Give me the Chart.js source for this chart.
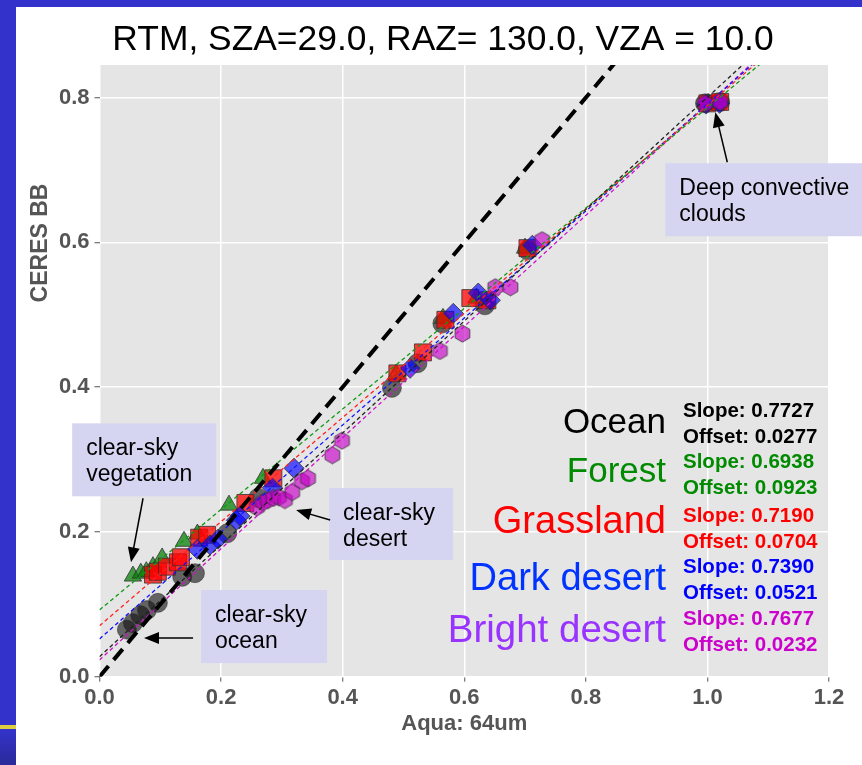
<!DOCTYPE html>
<html>
<head>
<meta charset="utf-8">
<script src="https://cdn.jsdelivr.net/npm/chart.js@4.4.1/dist/chart.umd.min.js"></script>
<style>
  body { margin: 0; background: #fff; }
  canvas { display: block; }
</style>
</head>
<body>
<canvas id="myChart" width="862" height="765"></canvas>
<script>
// data
var oceanX = [0.045, 0.055, 0.067, 0.078, 0.096, 0.136, 0.157, 0.210, 0.261, 0.481, 0.523, 0.564, 0.634, 0.704, 0.996, 1.021];
var oceanY = [0.065, 0.074, 0.085, 0.092, 0.102, 0.138, 0.143, 0.198, 0.247, 0.399, 0.433, 0.488, 0.513, 0.589, 0.792, 0.794];

var forestX = [0.055, 0.068, 0.077, 0.088, 0.103, 0.139, 0.161, 0.213, 0.269, 0.488, 0.565, 0.620, 0.700, 1.001];
var forestY = [0.139, 0.143, 0.145, 0.152, 0.164, 0.187, 0.197, 0.237, 0.274, 0.418, 0.495, 0.523, 0.592, 0.792];

var grassX = [0.088, 0.096, 0.111, 0.129, 0.134, 0.164, 0.177, 0.240, 0.286, 0.490, 0.532, 0.569, 0.610, 0.638, 0.704, 1.000, 1.021];
var grassY = [0.141, 0.145, 0.152, 0.158, 0.165, 0.192, 0.196, 0.240, 0.274, 0.419, 0.448, 0.493, 0.523, 0.520, 0.592, 0.792, 0.794];

var darkX = [0.161, 0.182, 0.195, 0.225, 0.231, 0.284, 0.320, 0.511, 0.582, 0.623, 0.643, 0.712, 0.998, 1.020];
var darkY = [0.176, 0.182, 0.190, 0.216, 0.222, 0.261, 0.288, 0.426, 0.502, 0.530, 0.520, 0.596, 0.791, 0.792];

var brightX = [0.259, 0.269, 0.277, 0.286, 0.295, 0.305, 0.317, 0.333, 0.343, 0.383, 0.399, 0.560, 0.597, 0.651, 0.676, 0.728, 0.996, 1.021];
var brightY = [0.234, 0.241, 0.244, 0.247, 0.248, 0.244, 0.255, 0.270, 0.274, 0.306, 0.326, 0.450, 0.474, 0.538, 0.538, 0.603, 0.792, 0.794];

// fit results printed on the chart
var names = ['Ocean', 'Forest', 'Grassland', 'Dark desert', 'Bright desert'];
var slopes = [0.7727, 0.6938, 0.7190, 0.7390, 0.7677];
var offsets = [0.0277, 0.0923, 0.0704, 0.0521, 0.0232];

var xTicks = [0.0, 0.2, 0.4, 0.6, 0.8, 1.0, 1.2];
var yTicks = [0.0, 0.2, 0.4, 0.6, 0.8];

var TITLE = 'RTM, SZA=29.0, RAZ= 130.0, VZA = 10.0';
var FONT = "'Liberation Sans', Arial, sans-serif";
var nameColors = ['#000000', '#008a00', '#ff0000', '#0033ff', '#9933ff'];
var fitColors = ['#000000', '#008a00', '#ff0000', '#0000ff', '#cc00cc'];
var lineColors = ['#222222', '#119911', '#ff2222', '#1111ff', '#cc11cc'];

function pts(xs, ys) {
    return xs.map(function (x, i) { return { x: x, y: ys[i] }; });
}

// hexagon marker, chart.js has none
function hexagon(r, fill, stroke) {
    var c = document.createElement('canvas');
    var s = Math.ceil(r * 2 + 2);
    c.width = s; c.height = s;
    var g = c.getContext('2d');
    g.beginPath();
    for (var i = 0; i < 6; i++) {
        var a = -Math.PI / 2 + i * Math.PI / 3;
        var px = s / 2 + r * Math.cos(a), py = s / 2 + r * Math.sin(a);
        if (i === 0) g.moveTo(px, py); else g.lineTo(px, py);
    }
    g.closePath();
    g.fillStyle = fill; g.fill();
    g.strokeStyle = stroke; g.lineWidth = 1; g.stroke();
    return c;
}

var edge = 'rgba(50,50,50,0.8)';

var datasets = [
    { label: 'Ocean', data: pts(oceanX, oceanY), pointStyle: 'circle', pointRadius: 9.5,
      backgroundColor: 'rgba(20,20,20,0.62)', borderColor: 'rgba(40,40,40,0.5)', borderWidth: 1, order: 6 },
    { label: 'Forest', data: pts(forestX, forestY), pointStyle: 'triangle', pointRadius: 10,
      backgroundColor: 'rgba(0,125,0,0.72)', borderColor: edge, borderWidth: 1, order: 5 },
    { label: 'Grassland', data: pts(grassX, grassY), pointStyle: 'rect', pointRadius: 12,
      backgroundColor: 'rgba(255,0,0,0.75)', borderColor: edge, borderWidth: 1, order: 4 },
    { label: 'Dark desert', data: pts(darkX, darkY), pointStyle: 'rectRot', pointRadius: 10,
      backgroundColor: 'rgba(0,0,255,0.65)', borderColor: edge, borderWidth: 1, order: 3 },
    { label: 'Bright desert', data: pts(brightX, brightY), pointStyle: hexagon(8.5, 'rgba(200,0,200,0.65)', edge),
      pointRadius: 8.5, order: 2 }
];

// fitted lines from the printed slope / offset
names.forEach(function (n, i) {
    datasets.push({
        type: 'line', label: n + ' fit',
        data: [{ x: 0, y: offsets[i] }, { x: 1.2, y: offsets[i] + slopes[i] * 1.2 }],
        borderColor: lineColors[i], borderWidth: 1.3, borderDash: [4, 3],
        pointRadius: 0, fill: false, order: 1
    });
});
// 1:1 line
datasets.push({
    type: 'line', label: '1:1',
    data: [{ x: 0, y: 0 }, { x: 1.2, y: 1.2 }],
    borderColor: '#000', borderWidth: 4, borderDash: [14, 8],
    pointRadius: 0, fill: false, order: 0
});

var notes = [
    { lines: ['clear-sky', 'vegetation'], x: -0.045, y: 0.350, w: 144, h: 73, from: [0.0716, 0.2465], to: [0.0518, 0.158] },
    { lines: ['clear-sky', 'desert'], x: 0.3777, y: 0.2606, w: 124, h: 72, from: [0.3794, 0.2164], to: [0.3234, 0.2302] },
    { lines: ['clear-sky', 'ocean'], x: 0.167, y: 0.1197, w: 126, h: 73, from: [0.1539, 0.0534], to: [0.0732, 0.0534] },
    { lines: ['Deep convective', 'clouds'], x: 0.9307, y: 0.7093, w: 200, h: 73, from: [1.0327, 0.7107], to: [1.0130, 0.7798] }
];

var frame = {
    id: 'frame',
    beforeDraw: function (chart) {
        var ctx = chart.ctx, a = chart.chartArea;
        ctx.save();
        ctx.fillStyle = '#fff';
        ctx.fillRect(0, 0, chart.width, chart.height);
        ctx.fillStyle = '#3333cc';
        ctx.fillRect(0, 0, chart.width, 7);
        ctx.fillRect(0, 0, 16, chart.height);
        ctx.fillStyle = '#ddd040';
        ctx.fillRect(0, 725, 16, 4);
        var gr = ctx.createLinearGradient(0, 729, 0, chart.height);
        gr.addColorStop(0, '#3333cc');
        gr.addColorStop(1, '#2a2a9a');
        ctx.fillStyle = gr;
        ctx.fillRect(0, 729, 16, chart.height - 729);
        ctx.fillStyle = '#e5e5e5';
        ctx.fillRect(a.left, a.top, a.right - a.left, a.bottom - a.top);
        // title and y title sit off-centre in the original
        ctx.fillStyle = '#000';
        ctx.font = '35.4px ' + FONT;
        ctx.textAlign = 'center';
        ctx.textBaseline = 'alphabetic';
        ctx.fillText(TITLE, 443, 50);
        ctx.save();
        ctx.translate(47, 243);
        ctx.rotate(-Math.PI / 2);
        ctx.fillStyle = '#555';
        ctx.font = 'bold 23px ' + FONT;
        ctx.fillText('CERES BB', 0, 0);
        ctx.restore();
        ctx.restore();
    }
};

var labels = {
    id: 'labels',
    afterDraw: function (chart) {
        var ctx = chart.ctx, sx = chart.scales.x, sy = chart.scales.y;
        ctx.save();
        // legend names and fit numbers
        var nameSize = [35, 35, 38, 38, 38.5];
        var nameBase = [433, 482, 533, 590, 642];
        var slopeBase = [417, 468, 522, 573, 625];
        ctx.textBaseline = 'alphabetic';
        names.forEach(function (n, i) {
            ctx.font = nameSize[i] + 'px ' + FONT;
            ctx.fillStyle = nameColors[i];
            ctx.textAlign = 'right';
            ctx.fillText(n, 666, nameBase[i]);
            ctx.font = 'bold 20.5px ' + FONT;
            ctx.fillStyle = fitColors[i];
            ctx.textAlign = 'left';
            ctx.fillText('Slope: ' + slopes[i].toFixed(4), 683, slopeBase[i]);
            ctx.fillText('Offset: ' + offsets[i].toFixed(4), 683, slopeBase[i] + 26);
        });
        // note boxes with arrows
        notes.forEach(function (n) {
            var bx = sx.getPixelForValue(n.x), by = sy.getPixelForValue(n.y);
            ctx.fillStyle = '#d5d5f2';
            ctx.fillRect(bx, by, n.w, n.h);
            ctx.fillStyle = '#000';
            ctx.font = '23px ' + FONT;
            ctx.textAlign = 'left';
            ctx.fillText(n.lines[0], bx + 14, by + 32);
            ctx.fillText(n.lines[1], bx + 14, by + 58);
            var x0 = sx.getPixelForValue(n.from[0]), y0 = sy.getPixelForValue(n.from[1]);
            var x1 = sx.getPixelForValue(n.to[0]), y1 = sy.getPixelForValue(n.to[1]);
            var ang = Math.atan2(y1 - y0, x1 - x0);
            ctx.strokeStyle = '#000';
            ctx.lineWidth = 1.5;
            ctx.beginPath();
            ctx.moveTo(x0, y0);
            ctx.lineTo(x1 - 10 * Math.cos(ang), y1 - 10 * Math.sin(ang));
            ctx.stroke();
            ctx.beginPath();
            ctx.moveTo(x1, y1);
            ctx.lineTo(x1 - 15 * Math.cos(ang) + 6 * Math.sin(ang), y1 - 15 * Math.sin(ang) - 6 * Math.cos(ang));
            ctx.lineTo(x1 - 15 * Math.cos(ang) - 6 * Math.sin(ang), y1 - 15 * Math.sin(ang) + 6 * Math.cos(ang));
            ctx.closePath();
            ctx.fill();
        });
        ctx.restore();
    }
};

function keepTicks(list) {
    return function (scale) {
        scale.ticks = list.map(function (v) { return { value: v }; });
    };
}

var ctx = document.getElementById('myChart').getContext('2d');
var chart = new Chart(ctx, {
    type: 'scatter',
    data: { datasets: datasets },
    options: {
        responsive: false,
        animation: false,
        devicePixelRatio: 1,
        layout: { padding: { left: 16, top: 65, right: 33, bottom: 0 } },
        plugins: {
            legend: { display: false },
            tooltip: { enabled: false },
            title: { display: false }
        },
        scales: {
            x: {
                type: 'linear', min: 0, max: 1.2,
                afterBuildTicks: keepTicks(xTicks),
                afterFit: function (s) { s.height = 88.3; },
                border: { display: false },
                grid: { color: '#ffffff', lineWidth: 1.5, tickColor: '#555', tickLength: 5, tickWidth: 1 },
                ticks: {
                    color: '#555', padding: 3,
                    font: { family: FONT, size: 22, weight: 'bold' },
                    callback: function (v) { return v.toFixed(1); }
                },
                title: {
                    display: true, text: 'Aqua: 64um', color: '#555',
                    font: { family: FONT, size: 22, weight: 'bold' },
                    padding: { top: 0, bottom: 28 }
                }
            },
            y: {
                type: 'linear', min: 0, max: 0.845,
                afterBuildTicks: keepTicks(yTicks),
                afterFit: function (s) { s.width = 83.5; },
                border: { display: false },
                grid: { color: '#ffffff', lineWidth: 1.5, tickColor: '#555', tickLength: 5, tickWidth: 1 },
                ticks: {
                    color: '#555', padding: 5,
                    font: { family: FONT, size: 22, weight: 'bold' },
                    callback: function (v) { return v.toFixed(1); }
                },
                title: { display: false }
            }
        }
    },
    plugins: [frame, labels]
});
</script>
</body>
</html>
